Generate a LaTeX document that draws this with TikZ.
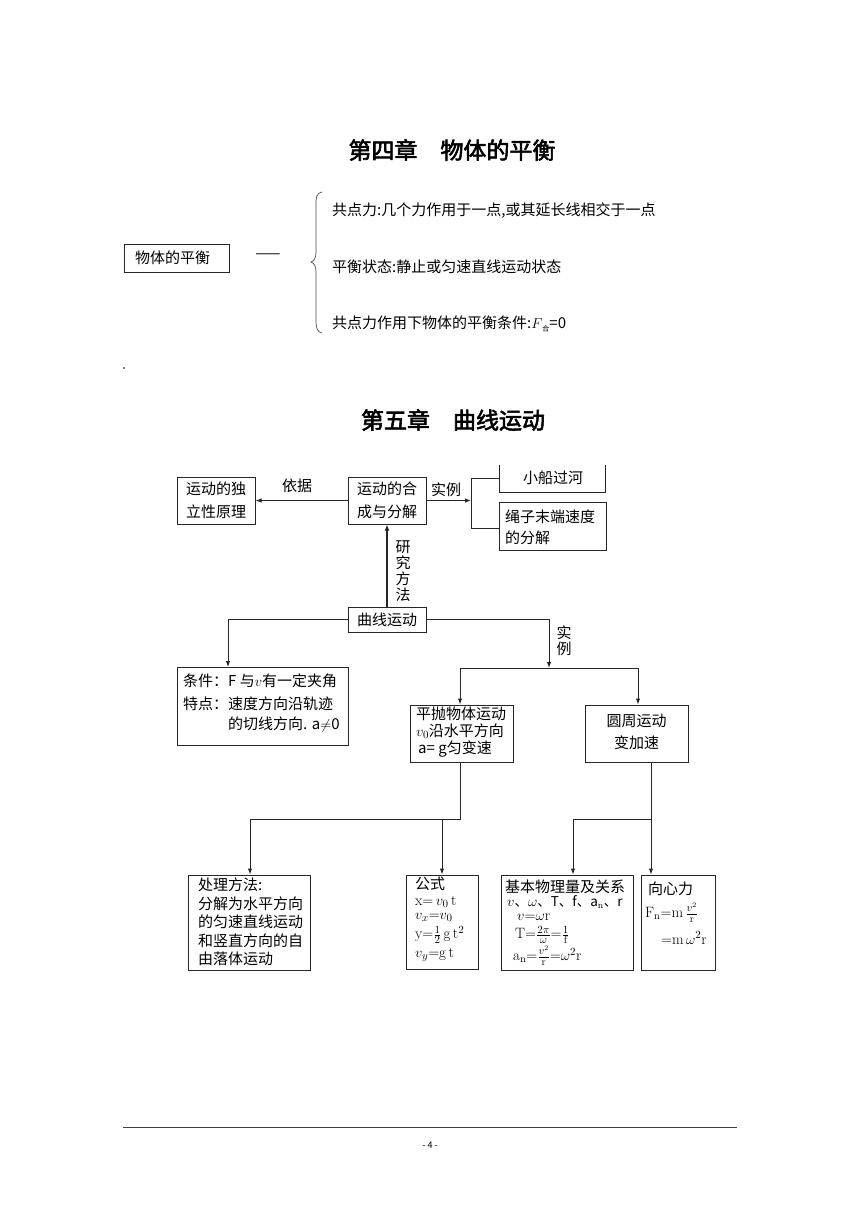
\documentclass[tikz,border=0pt]{standalone}
\usepackage{fontspec}
\usetikzlibrary{arrows.meta}
\newfontfamily\cjk{Noto Sans CJK SC}
\newfontfamily\cjkb[FakeBold=2.5]{Noto Sans CJK SC}
\newcommand\setfs[1]{\fontsize{#1}{#1}\selectfont}
\begin{document}
\begin{tikzpicture}[x=1pt,y=-1pt,
  bx/.style={draw=black!85, line width=1pt, inner sep=0pt},
  ln/.style={draw=black!85, line width=1pt},
  arr/.style={ln, -{Latex[length=6pt,width=4.5pt]}},
  t/.style={inner sep=0pt, font=\cjk\setfs{15}},
  tl/.style={t, anchor=west},
  fm/.style={inner sep=0pt, anchor=west, font=\cjk\setfs{15}},
  ttl/.style={inner sep=0pt, font=\cjkb\setfs{23}}]
\useasboundingbox (0,0) rectangle (860,1216);
\fill[white] (0,0) rectangle (860,1216);

% ---------- Chapter 4 ----------
\node[ttl] (t4) at (452,150) {第四章　物体的平衡};
\node[bx, minimum width=105pt, minimum height=28pt] (ph) at (176.5,258) {};
\node[tl] (pht) at (135,258) {物体的平衡};
\node[t] (dash) at (268,256) {——};
\draw[black!70, line width=0.7pt] (322,192) .. controls (316,193) and (316,198) .. (316,206) -- (316,252)
  .. controls (316,258) and (314,261) .. (311,262) .. controls (314,263) and (316,266) .. (316,272)
  -- (316,320) .. controls (316,328) and (317,332) .. (322,333);
\node[tl] (c1) at (332,211) {共点力:几个力作用于一点,或其延长线相交于一点};
\node[tl] (c2) at (332,267) {平衡状态:静止或匀速直线运动状态};
\node[tl] (c3) at (332,324) {共点力作用下物体的平衡条件:$F$\raisebox{-3pt}{\setfs{7}合}=0};
\fill[black] (124,368) circle (0.8);

% ---------- Chapter 5 ----------
\node[ttl] (t5) at (453,420) {第五章　曲线运动};

\node[bx, minimum width=78pt, minimum height=47pt] (dl) at (216,500.5) {};
\node[t, align=center, font=\cjk\fontsize{15}{23}\selectfont] at (dl) {运动的独\\立性原理};
\node[bx, minimum width=78pt, minimum height=47pt] (hc) at (387,500.5) {};
\node[t, align=center, font=\cjk\fontsize{15}{23}\selectfont] at (hc) {运动的合\\成与分解};
\node[inner sep=0pt, minimum width=105pt, minimum height=27pt] (xc) at (552.5,478.5) {};
\draw[ln] (xc.north west) -- (xc.south west) -- (xc.south east) -- (xc.north east);
\node[t] at (553,478) {小船过河};
\node[bx, minimum width=107pt, minimum height=48pt] (sz) at (552.5,526) {};
\node[tl, align=left, font=\cjk\fontsize{15}{21}\selectfont] at (505,527.5) {绳子末端速度\\的分解};

\node[bx, minimum width=78pt, minimum height=25pt] (qx) at (387,619.5) {};
\node[t] at (qx) {曲线运动};

\node[bx, minimum width=171pt, minimum height=78pt] (tj) at (262.5,706) {};
\node[tl] at (183,681) {条件：F 与$v$有一定夹角};
\node[tl] at (183,704) {特点：速度方向沿轨迹};
\node[tl] at (228,725) {的切线方向. a$\neq$0};

\node[bx, minimum width=103pt, minimum height=57pt] (pp) at (461.5,733.5) {};
\node[tl] at (416,714) {平抛物体运动};
\node[tl] at (416,731) {$v_0$沿水平方向};
\node[tl] at (418,749) {a= g匀变速};

\node[bx, minimum width=103pt, minimum height=57pt] (yz) at (636.5,733.5) {};
\node[t] at (636.5,721) {圆周运动};
\node[t] at (636.5,743) {变加速};

\node[bx, minimum width=122pt, minimum height=95pt] (cl) at (249,922.5) {};
\node[tl, align=left, font=\cjk\fontsize{15}{18.5}\selectfont] at (198,922) {处理方法:\\分解为水平方向\\的匀速直线运动\\和竖直方向的自\\由落体运动};

\node[bx, minimum width=72pt, minimum height=94pt] (gs) at (442,922) {};
\node[tl] at (415,884) {公式};
\node[fm] at (415,902) {$\mathrm{x}{=}\,v_0\,\mathrm{t}$};
\node[fm] at (415,917) {$v_x{=}v_0$};
\node[fm] at (415,935) {$\mathrm{y}{=}\frac{1}{2}\,\mathrm{g}\,\mathrm{t}^2$};
\node[fm] at (415,955) {$v_y{=}\mathrm{g\,t}$};

\node[bx, minimum width=132pt, minimum height=95pt] (jb) at (567,922.5) {};
\node[tl] at (505,887) {基本物理量及关系};
\node[fm, font=\cjk\setfs{13.5}] at (507,902) {$v$、$\omega$、T、f、a$_\mathrm{n}$、r};
\node[fm] at (517,917) {$v{=}\omega\mathrm{r}$};
\node[fm] at (515,935) {$\mathrm{T}{=}\frac{2\pi}{\omega}{=}\frac{1}{\mathrm{f}}$};
\node[fm] at (513,956) {$\mathrm{a_n}{=}\frac{v^2}{\mathrm{r}}{=}\omega^2\mathrm{r}$};

\node[bx, minimum width=74pt, minimum height=95pt] (xx) at (678,922.5) {};
\node[tl] at (648,889) {向心力};
\node[fm] at (645,913) {$\mathrm{F_n}{=}\mathrm{m}\,\frac{v^2}{\mathrm{r}}$};
\node[fm] at (661,938) {${=}\mathrm{m}\,\omega^2\mathrm{r}$};

% connectors
\draw[arr] (hc.west) -- (dl.east);
\node[t] (yj) at (297,486) {依据};
\coordinate (br) at (471,500.5);
\draw[arr] (hc.east) -- (br);
\node[t] (sl1) at (446,490) {实例};
\coordinate (bt) at (471,478);
\coordinate (bb) at (471,528);
\draw[ln] (xc.west |- bt) -- (bt) -- (bb) -- (sz.west |- bb);

\draw[arr, line width=2pt, -{Latex[length=6pt,width=5pt]}] (qx.north) -- (hc.south);
\node[t, align=center, font=\cjk\fontsize{15}{16}\selectfont] at (403,571) {研\\究\\方\\法};

\coordinate (tjin) at (228,667);
\draw[arr] (qx.west) -| (tjin);
\coordinate (sl) at (549,668);
\draw[arr] (qx.east) -| (sl);
\node[t, align=center, font=\cjk\fontsize{15}{16}\selectfont] at (564,641) {实\\例};

\coordinate (hl) at (460,668);
\coordinate (hr) at (638,668);
\draw[ln] (hl) -- (hr);
\draw[arr] (hl) -- (hl |- pp.north);
\draw[arr] (hr) -- (hr |- yz.north);

\coordinate (j1) at (460,819);
\coordinate (j1l) at (250,819);
\coordinate (j1m) at (442,819);
\draw[ln] (j1 |- pp.south) -- (j1) -- (j1l);
\draw[arr] (j1l) -- (j1l |- cl.north);
\draw[arr] (j1m) -- (j1m |- gs.north);
\coordinate (j2) at (651,819);
\coordinate (j2l) at (573,819);
\draw[arr] (j2 |- yz.south) -- (j2 |- xx.north);
\draw[ln] (j2) -- (j2l);
\draw[arr] (j2l) -- (j2l |- jb.north);

% footer
\coordinate (fl) at (123,1127);
\coordinate (fr) at (737,1127);
\draw[black!75, line width=0.8pt] (fl) -- (fr);
\node[inner sep=0pt, font=\cjk\setfs{9}] (pg) at (430,1145) {- 4 -};
\end{tikzpicture}
\end{document}
